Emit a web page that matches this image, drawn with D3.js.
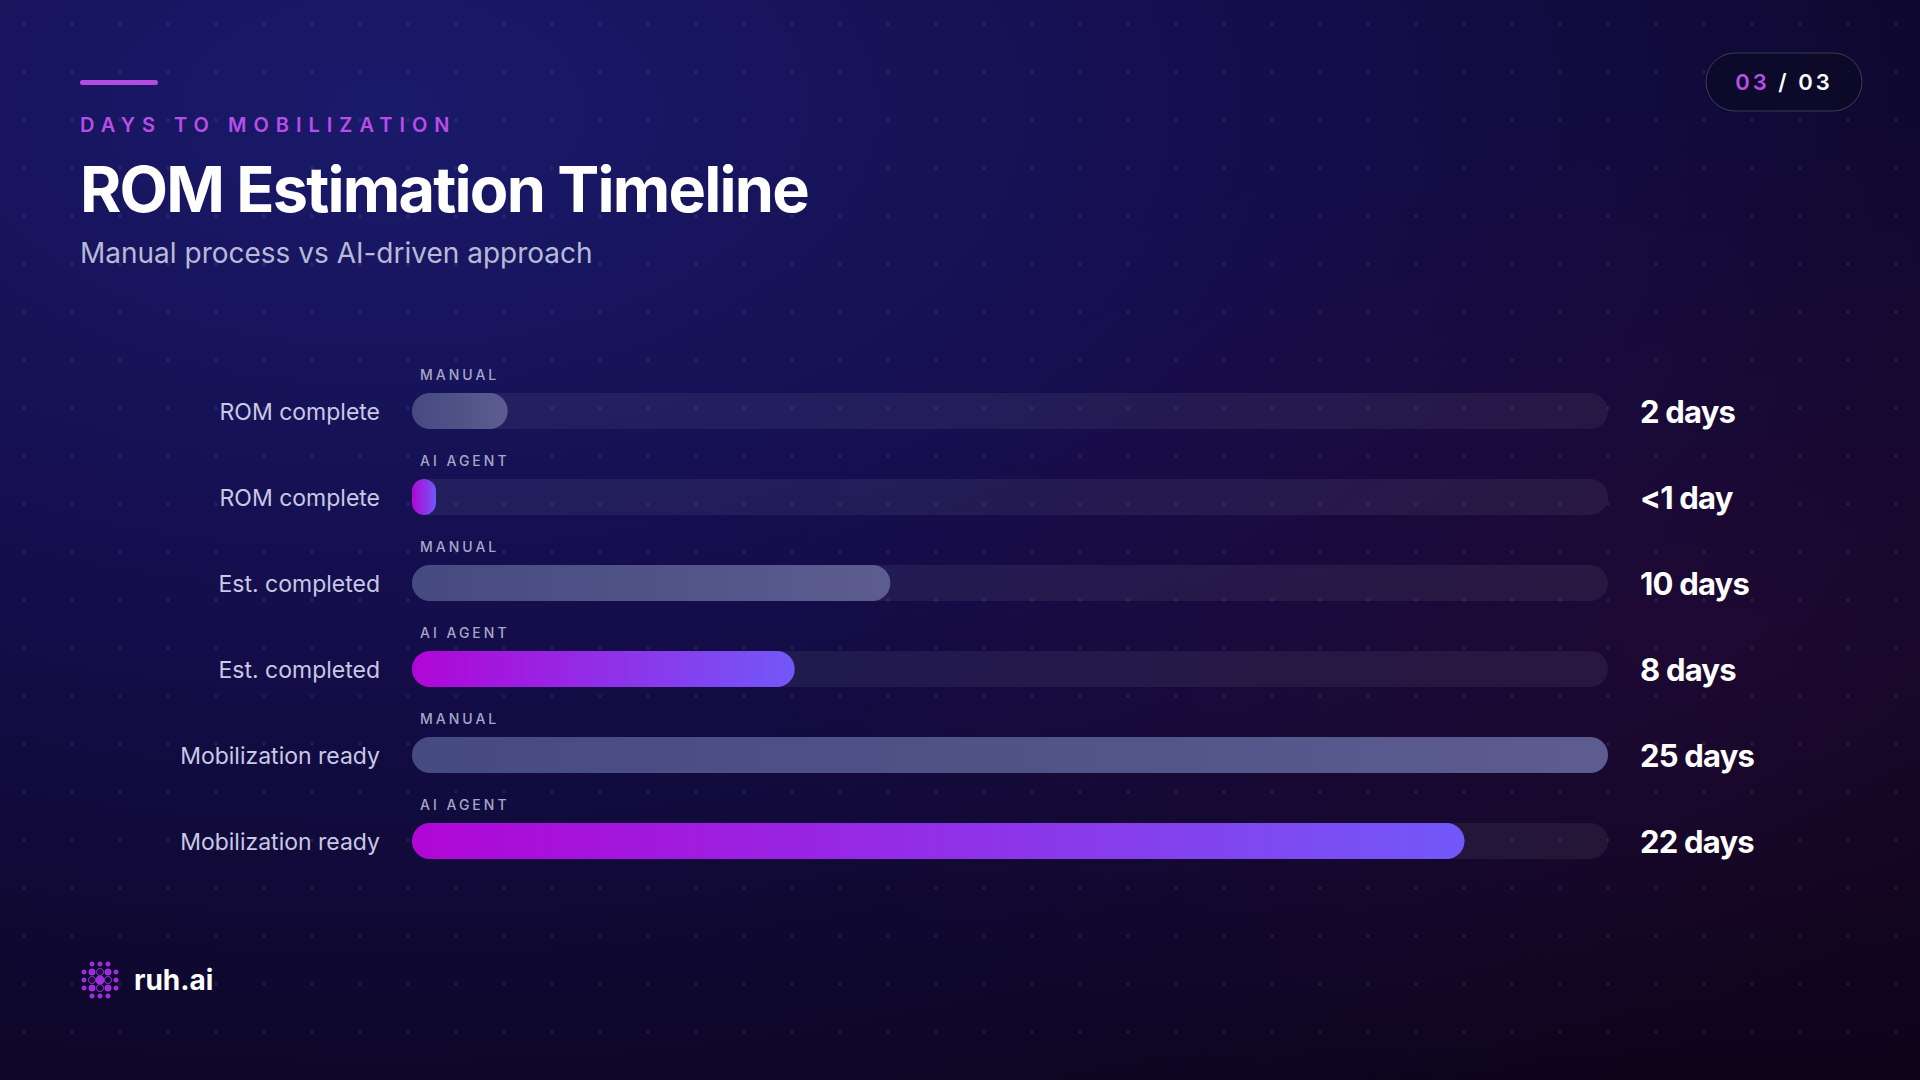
<!DOCTYPE html>
<html><head><meta charset="utf-8">
<script src="https://cdn.jsdelivr.net/npm/d3@7"></script>
<style>
html,body{margin:0;padding:0;background:#0c0730;overflow:hidden}
svg{display:block}
</style></head>
<body><svg id="chart" width="1920" height="1080"></svg>
<script>
// data
const rowLabels = ['ROM complete','ROM complete','Est. completed','Est. completed','Mobilization ready','Mobilization ready'];
const rowKinds = ['MANUAL','AI AGENT','MANUAL','AI AGENT','MANUAL','AI AGENT'];
const rowDays = [2, 0.5, 10, 8, 25, 22];
const rowValueText = ['2 days','<1 day','10 days','8 days','25 days','22 days'];
const maxDays = 25;

const svg = d3.select('#chart');
const font = 'Inter, "Noto Sans", sans-serif';
const defs = svg.append('defs');

// background gradient
const bg = defs.append('radialGradient').attr('id','bg').attr('cx','0.2').attr('cy','0.1').attr('r','1.1');
bg.append('stop').attr('offset','0').attr('stop-color','#1a1a6b');
bg.append('stop').attr('offset','0.45').attr('stop-color','#140d4a');
bg.append('stop').attr('offset','1').attr('stop-color','#0a0418');
svg.append('rect').attr('width',1920).attr('height',1080).attr('fill','url(#bg)');
const glow = defs.append('radialGradient').attr('id','glow').attr('cx','0.9').attr('cy','0.6').attr('r','0.5');
glow.append('stop').attr('offset','0').attr('stop-color','#3a0a3a').attr('stop-opacity',0.35);
glow.append('stop').attr('offset','1').attr('stop-color','#3a0a3a').attr('stop-opacity',0);
svg.append('rect').attr('width',1920).attr('height',1080).attr('fill','url(#glow)');

// dot grid
const dots = [];
for(let x = 24; x < 1920; x += 48){
    for(let y = 24; y < 1080; y += 48) dots.push([x,y]);
}
svg.append('g').selectAll('circle').data(dots).join('circle')
    .attr('cx',d=>d[0]).attr('cy',d=>d[1]).attr('r',1.6)
    .attr('fill','#ffffff').attr('opacity',0.09);

// header
svg.append('rect').attr('x',80).attr('y',80).attr('width',78).attr('height',5).attr('rx',2.5).attr('fill','#b04de0');
svg.append('text').attr('x',80).attr('y',132).text('DAYS TO MOBILIZATION')
    .attr('font-family',font).attr('font-size',20).attr('font-weight',600)
    .attr('letter-spacing',7).attr('fill','#b94ee6');
svg.append('text').attr('x',80).attr('y',212).text('ROM Estimation Timeline')
    .attr('font-family',font).attr('font-size',63).attr('font-weight',700)
    .attr('letter-spacing',-1.8).attr('fill','#ffffff');
svg.append('text').attr('x',80).attr('y',263).text('Manual process vs AI-driven approach')
    .attr('font-family',font).attr('font-size',28).attr('fill','#b8b9d8');

// page pill
svg.append('rect').attr('x',1706).attr('y',53).attr('width',156).attr('height',58).attr('rx',29)
    .attr('fill','#0a0a22').attr('fill-opacity',0.6).attr('stroke','#ffffff').attr('stroke-opacity',0.2);
const pill = svg.append('text').attr('x',1784).attr('y',90).attr('text-anchor','middle')
    .attr('font-family',font).attr('font-size',22).attr('font-weight',600).attr('letter-spacing',3);
pill.append('tspan').attr('fill','#b94ee6').text('03');
pill.append('tspan').attr('fill','#ffffff').text(' / 03');

// scales
const x = d3.scaleLinear().domain([0,maxDays]).range([412,1608]);
const y = d3.scaleBand().domain(d3.range(rowDays.length)).range([360,876]).paddingInner(0);
const barH = 36;

const gm = defs.append('linearGradient').attr('id','gManual');
gm.append('stop').attr('offset','0').attr('stop-color','#454a80');
gm.append('stop').attr('offset','1').attr('stop-color','#5c5c90');
const ga = defs.append('linearGradient').attr('id','gAi');
ga.append('stop').attr('offset','0').attr('stop-color','#b006d6');
ga.append('stop').attr('offset','1').attr('stop-color','#7258f8');

const rows = svg.append('g').selectAll('g').data(rowDays).join('g')
    .attr('transform',(d,i)=>`translate(0,${y(i) + y.bandwidth()/2 + 8})`);

rows.append('rect').attr('x',x(0)).attr('y',-barH/2).attr('width',x(maxDays)-x(0)).attr('height',barH)
    .attr('rx',barH/2).attr('fill','#ffffff').attr('fill-opacity',0.06);
rows.append('rect').attr('x',x(0)).attr('y',-barH/2)
    .attr('width',d=>Math.max(x(d)-x(0),24)).attr('height',barH)
    .attr('rx',d=>Math.min(barH/2,(Math.max(x(d)-x(0),24))/2))
    .attr('fill',(d,i)=>rowKinds[i]==='MANUAL'?'url(#gManual)':'url(#gAi)');
rows.append('text').attr('x',x(0)+8).attr('y',-31).text((d,i)=>rowKinds[i])
    .attr('font-family',font).attr('font-size',14).attr('font-weight',500)
    .attr('letter-spacing',3).attr('fill','#a5a7c8');
rows.append('text').attr('x',380).attr('y',9).attr('text-anchor','end').text((d,i)=>rowLabels[i])
    .attr('font-family',font).attr('font-size',23).attr('fill','#c8c9e4');
rows.append('text').attr('x',1640).attr('y',12).text((d,i)=>rowValueText[i])
    .attr('font-family',font).attr('font-size',31).attr('font-weight',700)
    .attr('letter-spacing',-0.8).attr('fill','#ffffff');

// logo
const logo = svg.append('g').attr('transform','translate(100,980)');
const logoDots = [];
for(let i = -2; i <= 2; i++){
    for(let j = -2; j <= 2; j++){
        const r = Math.hypot(i,j);
        if(r <= 2.3) logoDots.push([i*8,j*8,r]);
    }
}
logo.selectAll('circle').data(logoDots).join('circle')
    .attr('cx',d=>d[0]).attr('cy',d=>d[1])
    .attr('r',d=>d[2]===0?4.5:(d[2]<1.5?3.5:2.5))
    .attr('fill',d=>d[2]>0&&d[2]<1.1?'none':'#9b30d8')
    .attr('stroke',d=>d[2]>0&&d[2]<1.1?'#9b30d8':'none');
svg.append('text').attr('x',134).attr('y',990).text('ruh.ai')
    .attr('font-family',font).attr('font-size',28).attr('font-weight',700).attr('fill','#ffffff');
</script>
</body></html>
